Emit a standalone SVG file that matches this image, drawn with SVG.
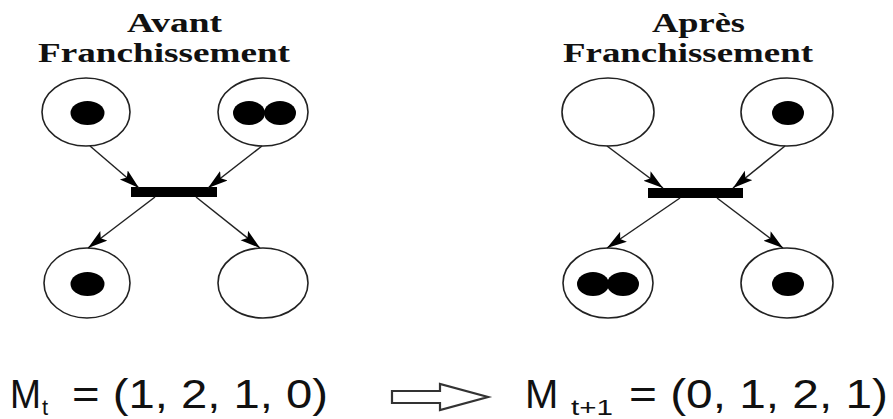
<svg xmlns="http://www.w3.org/2000/svg" width="893" height="419" viewBox="0 0 893 419">
<style>
.title{font-family:"Liberation Serif","DejaVu Serif",serif;font-weight:bold;font-size:28px;fill:#111}
.place{fill:#fff;stroke:#222;stroke-width:1.6}
.tok{fill:#000}
.bar{fill:#000}
.arc{stroke:#222;stroke-width:1.5;fill:none;marker-end:url(#ah)}
.eq{font-family:"Liberation Sans",Arial,sans-serif;font-size:40px;fill:#111}
.sub{font-family:"Liberation Sans",Arial,sans-serif;font-size:22px;fill:#111}
</style>
<defs>
<marker id="ah" markerUnits="userSpaceOnUse" markerWidth="22" markerHeight="14" refX="20" refY="6" orient="auto">
<path d="M0,0 L20,6 L0,12 L4,6 z" fill="#000"/>
</marker>
</defs>
<rect width="893" height="419" fill="#fff"/>

<g id="title-avant">
<text class="title" x="127" y="32" textLength="95" lengthAdjust="spacingAndGlyphs">Avant</text>
<text class="title" x="38" y="62" textLength="252" lengthAdjust="spacingAndGlyphs">Franchissement</text>
</g>
<g id="title-apres">
<text class="title" x="652" y="32" textLength="93" lengthAdjust="spacingAndGlyphs">Après</text>
<text class="title" x="563" y="62" textLength="250" lengthAdjust="spacingAndGlyphs">Franchissement</text>
</g>

<g id="avant-p1"><ellipse class="place" cx="86" cy="112" rx="44" ry="34"/><ellipse class="tok" cx="87.5" cy="113" rx="17" ry="12"/></g>
<g id="avant-p2"><ellipse class="place" cx="263" cy="112" rx="45" ry="34"/><ellipse class="tok" cx="249" cy="113" rx="16" ry="12"/><ellipse class="tok" cx="280" cy="113" rx="16" ry="12"/></g>
<g id="avant-t"><rect class="bar" x="131" y="187" width="86" height="10"/></g>
<g id="avant-p3"><ellipse class="place" cx="87" cy="283" rx="43" ry="35"/><ellipse class="tok" cx="87.5" cy="284" rx="17" ry="12"/></g>
<g id="avant-p4"><ellipse class="place" cx="263" cy="283" rx="45" ry="35"/></g>

<g id="apres-p1"><ellipse class="place" cx="608" cy="112" rx="46" ry="34"/></g>
<g id="apres-p2"><ellipse class="place" cx="787" cy="112" rx="46" ry="34"/><ellipse class="tok" cx="788" cy="113" rx="16" ry="12"/></g>
<g id="apres-t"><rect class="bar" x="648" y="188" width="95" height="10"/></g>
<g id="apres-p3"><ellipse class="place" cx="608" cy="283" rx="45" ry="35"/><ellipse class="tok" cx="593" cy="284" rx="16" ry="12"/><ellipse class="tok" cx="623" cy="284" rx="16" ry="12"/></g>
<g id="apres-p4"><ellipse class="place" cx="787" cy="283" rx="46" ry="35"/><ellipse class="tok" cx="788" cy="284" rx="16" ry="12"/></g>

<g id="connectors">
<line class="arc" x1="90" y1="146" x2="139" y2="188"/>
<line class="arc" x1="262" y1="146" x2="208" y2="188"/>
<line class="arc" x1="155" y1="197" x2="88" y2="248"/>
<line class="arc" x1="196" y1="197" x2="260" y2="248"/>
<line class="arc" x1="607" y1="146" x2="663" y2="188"/>
<line class="arc" x1="785" y1="146" x2="733" y2="188"/>
<line class="arc" x1="680" y1="198" x2="607" y2="248"/>
<line class="arc" x1="717" y1="198" x2="783" y2="248"/>
</g>

<g id="marking">
<text class="eq" x="10" y="408" textLength="31" lengthAdjust="spacingAndGlyphs">M</text>
<text class="sub" x="42" y="415">t</text>
<text class="eq" x="72" y="408" textLength="256" lengthAdjust="spacingAndGlyphs">= (1, 2, 1, 0)</text>
<path d="M392,391 L440,391 L440,384 L488,397 L440,410 L440,403 L392,403 Z" fill="#fff" stroke="#333" stroke-width="2.2" stroke-linejoin="miter"/>
<text class="eq" x="525" y="408">M</text>
<text class="sub" x="571" y="415" textLength="42" lengthAdjust="spacingAndGlyphs">t+1</text>
<text class="eq" x="629" y="408" textLength="259" lengthAdjust="spacingAndGlyphs">= (0, 1, 2, 1)</text>
</g>
</svg>
